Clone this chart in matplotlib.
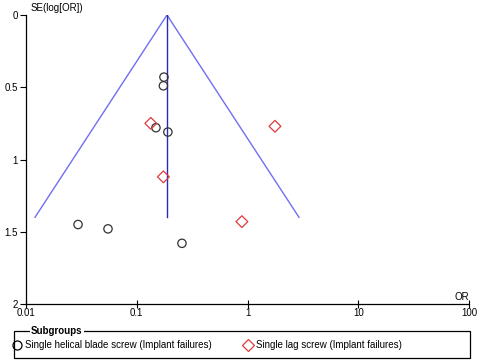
import matplotlib
matplotlib.use("Agg")
import matplotlib.pyplot as plt
import numpy as np
from matplotlib.patches import Rectangle
from matplotlib.lines import Line2D

plt.rcParams['font.family'] = ['Liberation Sans', 'DejaVu Sans']

# data
helical_or = [0.176, 0.174, 0.149, 0.191, 0.0295, 0.055, 0.256]
helical_se = [0.43, 0.49, 0.78, 0.81, 1.45, 1.48, 1.58]
lag_or = [0.134, 1.77, 0.174, 0.89]
lag_se = [0.75, 0.77, 1.12, 1.43]
pooled_or = 0.1875
max_se = 1.4
xticks = [0.01, 0.1, 1, 10, 100]
yticks = [0, 0.5, 1, 1.5, 2]
labels = ["Single helical blade screw (Implant failures)",
          "Single lag screw (Implant failures)"]

fig = plt.figure(figsize=(4.82, 3.6), dpi=100)
ax = fig.add_axes([26/482, 1-304/360, 443/482, 289/360])

# funnel
se_line = np.array([max_se, 0, max_se])
or_line = pooled_or*np.exp(np.array([-1.96, 0, 1.96])*se_line)
ax.plot(or_line, se_line, color='#6f6ff0', lw=1)
ax.plot([pooled_or, pooled_or], [0, max_se], color='#2a2ab8', lw=1)

ax.scatter(helical_or, helical_se, s=36, marker='o', facecolors='none',
           edgecolors='#333333', linewidths=0.9, zorder=3)
ax.scatter(lag_or, lag_se, s=36, marker='D', facecolors='none',
           edgecolors='#dd3b3b', linewidths=0.9, zorder=3)

ax.set_xscale('log')
ax.set_xlim(0.01, 100)
ax.set_ylim(2, 0)
ax.set_xticks(xticks)
ax.set_xticklabels(['0.01', '0.1', '1', '10', '100'])
ax.minorticks_off()
ax.set_yticks(yticks)
ax.set_yticklabels(['0', '0.5', '1', '1.5', '2'])
ax.tick_params(axis='x', direction='inout', length=6, width=0.8, labelsize=7, pad=0)
ax.tick_params(axis='y', direction='out', length=4, width=0.8, labelsize=7, pad=2)
for s in ['top', 'right']:
    ax.spines[s].set_visible(False)
for s in ['left', 'bottom']:
    ax.spines[s].set_linewidth(0.9)

fig.text(31/482, 1-8/360, 'SE(log[OR])', fontsize=7, va='center', ha='left')
fig.text(469/482, 1-297/360, 'OR', fontsize=7, va='center', ha='right')

# legend
handles = [Line2D([], [], marker='o', ls='none', mfc='none', mec='black', ms=6.5, mew=0.9),
           Line2D([], [], marker='D', ls='none', mfc='none', mec='#dd3b3b', ms=6, mew=0.9)]
fig.legend(handles, labels, loc='center left', bbox_to_anchor=(12/482, 1-345/360),
           ncol=2, frameon=False, fontsize=7, handlelength=1, handletextpad=0.3,
           columnspacing=3.3, borderpad=0, borderaxespad=0)
fig.patches.append(Rectangle((14/482, 1-358/360), 456/482, 27/360,
                             transform=fig.transFigure, fill=False, ec='black', lw=0.9))
fig.text(31/482, 1-331/360, 'Subgroups', fontsize=7, fontweight='bold', va='center',
         ha='left', zorder=10,
         bbox=dict(facecolor='white', edgecolor='none', pad=1))

fig.savefig('out.png', dpi=100)
